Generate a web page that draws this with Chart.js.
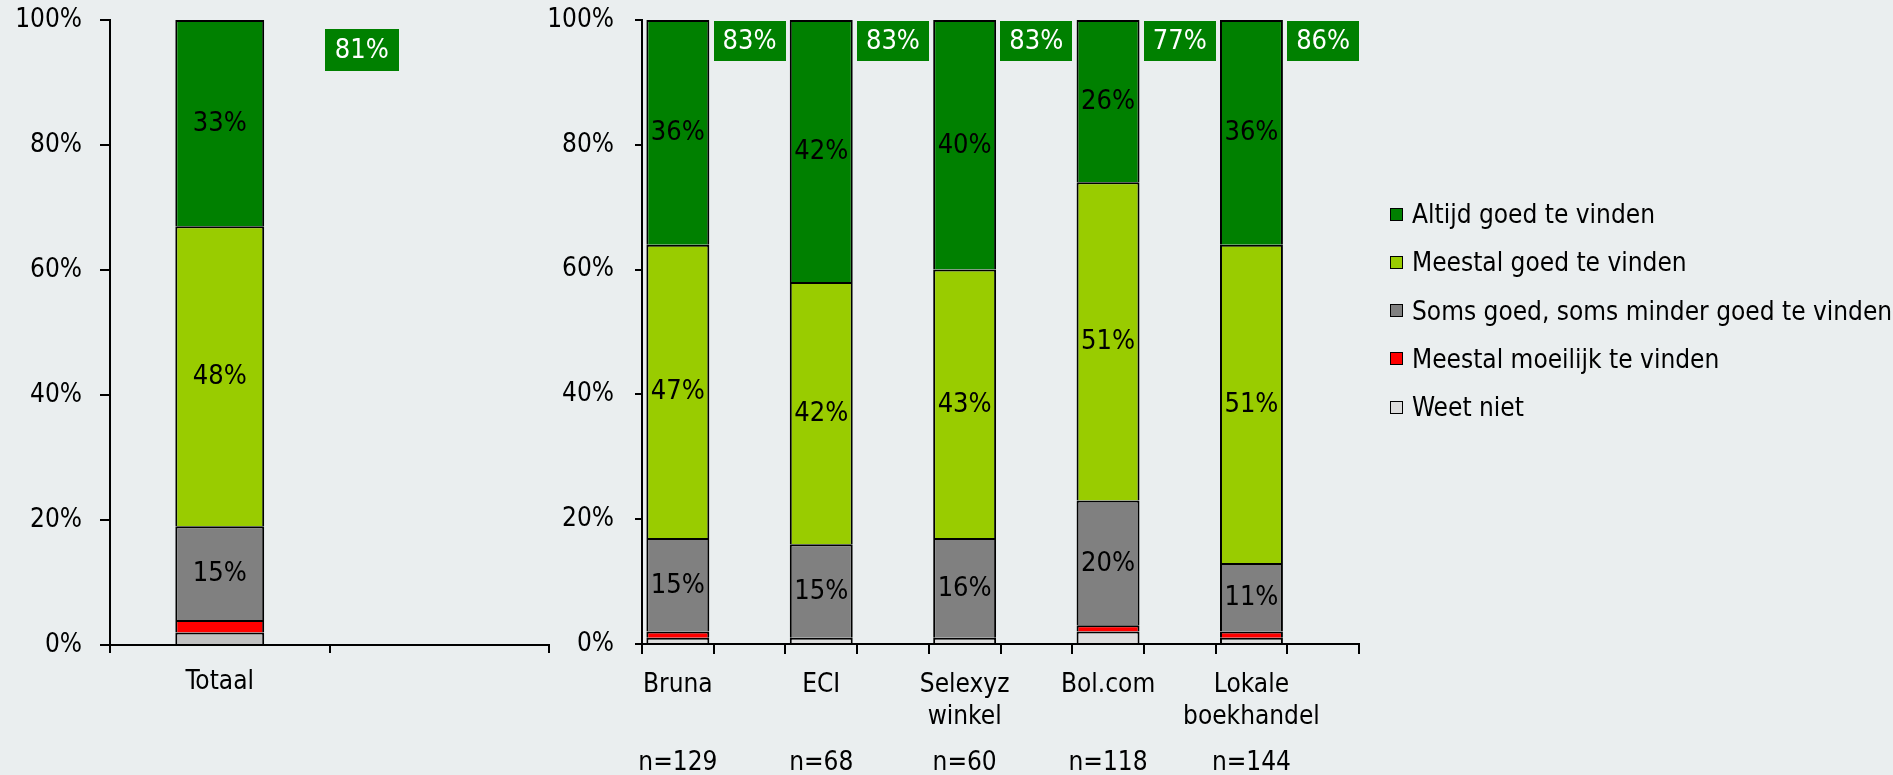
<!DOCTYPE html>
<html>
<head>
<meta charset="utf-8">
<script src="https://cdn.jsdelivr.net/npm/chart.js@4.4.1/dist/chart.umd.min.js"></script>
<style>
  html, body { margin: 0; padding: 0; background: #eaeeef; width: 1893px; height: 775px; overflow: hidden; }
  .pane { position: absolute; top: 0; height: 775px; }
  #paneTotal { left: 0; width: 600px; }
  #paneShops { left: 520px; width: 900px; }
  canvas { display: block; }
  #legend { position: absolute; left: 1390px; top: 190px; font: 26px "DejaVu Sans Condensed", "DejaVu Sans", sans-serif; color: #000; }
  #legend .item { display: flex; align-items: center; height: 48.25px; white-space: nowrap; }
  #legend .sw { width: 11px; height: 11px; border: 1.5px solid #000; margin-right: 9px; flex: none; }
</style>
</head>
<body>
<div class="pane" id="paneTotal"><canvas id="chartTotal"></canvas></div>
<div class="pane" id="paneShops"><canvas id="chartShops"></canvas></div>
<div id="legend"></div>

<script>
// Answer categories, top of the stack first
const series = [
  'Altijd goed te vinden',
  'Meestal goed te vinden',
  'Soms goed, soms minder goed te vinden',
  'Meestal moeilijk te vinden',
  'Weet niet'
];
const seriesColors = ['#008000', '#99cc00', '#808080', '#ff0000', '#dddddd'];
const totalWeetNietColor = '#c0c0c0';
const yTicks = [0, 20, 40, 60, 80, 100];

// Totaal
const totalCategories = ['Totaal', ''];
const totalAltijd   = [33];
const totalMeestal  = [48];
const totalSoms     = [15];
const totalMoeilijk = [2];
const totalWeetNiet = [2];
const totalGood     = [81];

// Per winkel
const shops = [['Bruna'], ['ECI'], ['Selexyz', 'winkel'], ['Bol.com'], ['Lokale', 'boekhandel']];
const shopN        = [129, 68, 60, 118, 144];
const shopAltijd   = [36, 42, 40, 26, 36];
const shopMeestal  = [47, 42, 43, 51, 51];
const shopSoms     = [15, 15, 16, 20, 11];
const shopMoeilijk = [1, 0, 0, 1, 1];
const shopWeetNiet = [1, 1, 1, 2, 1];
const shopGood     = [83, 83, 83, 77, 86];

const FONT = '"DejaVu Sans Condensed", "DejaVu Sans", sans-serif';
const FONT_SIZE = 26;
const LABEL_SIZE = 27;

// Legend (top of stack first)
const legendEl = document.getElementById('legend');
series.forEach((name, i) => {
  const row = document.createElement('div');
  row.className = 'item';
  const sw = document.createElement('span');
  sw.className = 'sw';
  sw.style.background = seriesColors[i];
  const txt = document.createElement('span');
  txt.textContent = name;
  row.appendChild(sw);
  row.appendChild(txt);
  legendEl.appendChild(row);
});

// Percentages written in the middle of the larger segments
const valueLabels = {
  id: 'valueLabels',
  afterDatasetsDraw(chart) {
    const ctx = chart.ctx;
    ctx.save();
    ctx.font = LABEL_SIZE + 'px ' + FONT;
    ctx.fillStyle = '#000';
    ctx.textAlign = 'center';
    ctx.textBaseline = 'middle';
    chart.data.datasets.forEach((ds, i) => {
      if (!ds.valueLabel) return;
      chart.getDatasetMeta(i).data.forEach((el, j) => {
        const v = ds.data[j];
        if (v == null) return;
        ctx.fillText(v + '%', el.x, (el.y + el.base) / 2 + 1);
      });
    });
    ctx.restore();
  }
};

// Green boxes with the share "altijd + meestal goed te vinden"
function goodBadges(values, centerX, topOffset, boxH, padX) {
  return {
    id: 'goodBadges',
    afterDraw(chart) {
      const ctx = chart.ctx;
      const xs = chart.scales.x;
      const top = chart.chartArea.top + topOffset;
      ctx.save();
      ctx.font = LABEL_SIZE + 'px ' + FONT;
      ctx.textAlign = 'center';
      ctx.textBaseline = 'middle';
      values.forEach((v, i) => {
        const t = v + '%';
        const w = ctx.measureText(t).width + 2 * padX;
        const cx = centerX(xs, i);
        ctx.fillStyle = '#008000';
        ctx.fillRect(Math.round(cx - w / 2), top, Math.round(w), boxH);
        ctx.fillStyle = '#ffffff';
        ctx.fillText(t, cx, top + boxH / 2 + 1);
      });
      ctx.restore();
    }
  };
}

// Sample sizes under the shop names
const sampleSizes = {
  id: 'sampleSizes',
  afterDraw(chart) {
    const ctx = chart.ctx;
    const xs = chart.scales.x;
    ctx.save();
    ctx.font = FONT_SIZE + 'px ' + FONT;
    ctx.fillStyle = '#000';
    ctx.textAlign = 'center';
    ctx.textBaseline = 'middle';
    shopN.forEach((n, i) => {
      ctx.fillText('n=' + n, xs.getPixelForValue(2 * i), chart.chartArea.bottom + 119);
    });
    ctx.restore();
  }
};

function makeDatasets(cols, barPct) {
  const base = { borderColor: '#000000', borderWidth: 2, borderSkipped: 'start',
                 categoryPercentage: 1, barPercentage: barPct };
  return [
    Object.assign({ label: series[4], data: cols[4], backgroundColor: cols.weetNietColor }, base),
    Object.assign({ label: series[3], data: cols[3], backgroundColor: seriesColors[3] }, base),
    Object.assign({ label: series[2], data: cols[2], backgroundColor: seriesColors[2], valueLabel: true }, base),
    Object.assign({ label: series[1], data: cols[1], backgroundColor: seriesColors[1], valueLabel: true }, base),
    Object.assign({ label: series[0], data: cols[0], backgroundColor: seriesColors[0], valueLabel: true }, base)
  ];
}

function makeOptions(o) {
  return {
    responsive: true,
    maintainAspectRatio: false,
    animation: false,
    events: [],
    layout: { padding: { top: 20, left: 0, right: o.padRight, bottom: 0 } },
    plugins: { legend: { display: false }, tooltip: { enabled: false } },
    scales: {
      x: {
        stacked: true,
        offset: true,
        border: { display: true, color: '#000', width: 2 },
        grid: { display: true, offset: true, drawOnChartArea: false, color: '#000', lineWidth: 2, tickLength: o.xTick },
        ticks: { color: '#000', font: { family: FONT, size: FONT_SIZE, lineHeight: 1.2 },
                 padding: o.xPad, autoSkip: false, maxRotation: 0, minRotation: 0 },
        afterFit: s => { s.height = o.xHeight; s.paddingLeft = 0; s.paddingRight = 0; }
      },
      y: {
        stacked: true,
        min: 0, max: 100,
        afterBuildTicks: s => { s.ticks = yTicks.map(v => ({ value: v })); },
        border: { display: true, color: '#000', width: 2 },
        grid: { display: true, drawOnChartArea: false, color: '#000', lineWidth: 2, tickLength: o.yTick },
        ticks: { color: '#000', font: { family: FONT, size: FONT_SIZE }, padding: o.yPad,
                 callback: v => v + '%' },
        afterFit: s => { s.width = o.yWidth; s.paddingTop = 0; s.paddingBottom = 0; }
      }
    }
  };
}

// Totaal
const totalCols = [totalAltijd, totalMeestal, totalSoms, totalMoeilijk, totalWeetNiet];
totalCols.weetNietColor = totalWeetNietColor;
new Chart(document.getElementById('chartTotal'), {
  type: 'bar',
  data: { labels: totalCategories, datasets: makeDatasets(totalCols, 0.405) },
  options: makeOptions({ padRight: 51, xTick: 8, xPad: 14, xHeight: 130, yTick: 10, yPad: 18, yWidth: 110 }),
  plugins: [valueLabels, goodBadges(totalGood,
    (xs, i) => xs.getPixelForValue(0) + 0.647 * (xs.getPixelForValue(1) - xs.getPixelForValue(0)), 9, 42, 10)]
});

// Per winkel: every shop is followed by an empty slot that holds its green box
const spread = arr => arr.flatMap(v => [v, null]);
const shopLabels = shops.flatMap(s => [s, '']);
const shopCols = [spread(shopAltijd), spread(shopMeestal), spread(shopSoms), spread(shopMoeilijk), spread(shopWeetNiet)];
shopCols.weetNietColor = seriesColors[4];
new Chart(document.getElementById('chartShops'), {
  type: 'bar',
  data: { labels: shopLabels, datasets: makeDatasets(shopCols, 0.878) },
  options: makeOptions({ padRight: 61, xTick: 10, xPad: 16, xHeight: 131, yTick: 7, yPad: 21, yWidth: 122 }),
  plugins: [valueLabels, sampleSizes, goodBadges(shopGood,
    (xs, i) => xs.getPixelForValue(2 * i + 1), 1, 40, 9)]
});
</script>
</body>
</html>
